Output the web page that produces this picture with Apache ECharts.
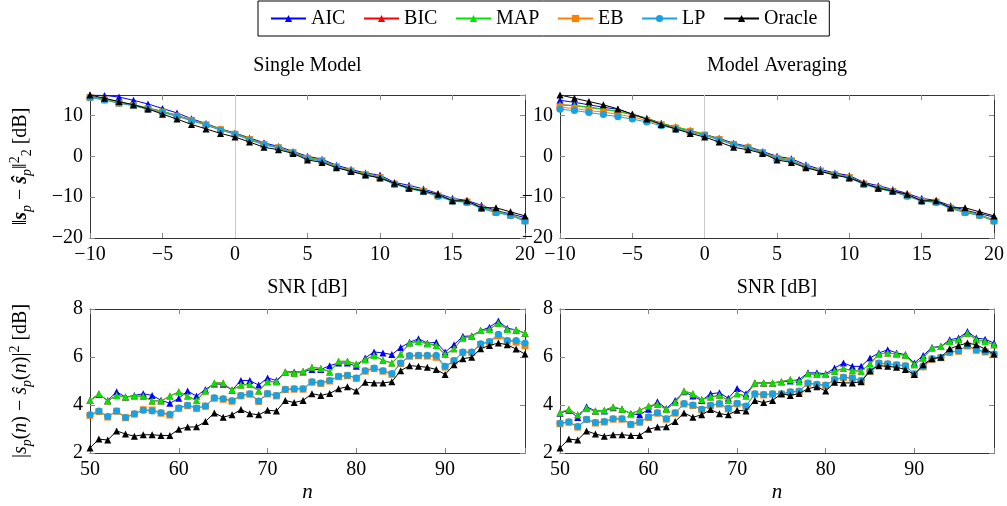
<!DOCTYPE html>
<html><head><meta charset="utf-8">
<script src="https://cdn.jsdelivr.net/npm/echarts@6/dist/echarts.min.js"></script>
<style>html,body{margin:0;padding:0;background:#fff}#c{width:1007px;height:506px}</style>
</head><body><div id="c"></div><script>
// ---------- data ----------
const snrDb = [-10,-9,-8,-7,-6,-5,-4,-3,-2,-1,0,1,2,3,4,5,6,7,8,9,10,11,12,13,14,15,16,17,18,19,20];
const nIdx = [50,51,52,53,54,55,56,57,58,59,60,61,62,63,64,65,66,67,68,69,70,71,72,73,74,75,76,77,78,79,80,81,82,83,84,85,86,87,88,89,90,91,92,93,94,95,96,97,98,99];

// Single Model, error vs SNR
const aicSingle = [15.0,14.9,14.5,13.7,12.8,11.7,10.6,9.2,8.0,6.7,5.7,4.5,3.3,2.4,1.2,0.0,-0.7,-2.2,-3.2,-4.1,-4.6,-6.4,-7.1,-8.0,-9.1,-10.3,-10.8,-12.0,-13.3,-14.1,-15.0];
const bicSingle = [14.6,14.0,13.3,12.6,11.8,11.0,10.0,8.9,7.9,6.6,5.6,4.3,3.0,2.2,1.0,-0.3,-1.0,-2.5,-3.5,-4.4,-5.0,-6.7,-7.6,-8.4,-9.5,-10.7,-11.0,-12.5,-13.5,-14.3,-15.6];
const mapSingle = [14.6,14.0,13.3,12.6,11.8,11.0,10.0,8.9,7.9,6.6,5.6,4.3,3.0,2.2,1.0,-0.3,-1.0,-2.5,-3.5,-4.4,-5.0,-6.7,-7.6,-8.4,-9.5,-10.7,-11.0,-12.5,-13.5,-14.3,-15.6];
const ebSingle  = [14.4,13.8,13.0,12.4,11.6,10.8,9.8,8.8,7.7,6.5,5.4,4.1,2.9,2.1,0.9,-0.5,-1.1,-2.6,-3.6,-4.5,-5.2,-6.8,-7.8,-8.6,-9.7,-10.9,-11.2,-12.7,-13.7,-14.4,-15.8];
const lpSingle  = [14.4,13.8,13.0,12.4,11.5,10.7,9.8,8.7,7.6,6.4,5.4,4.0,2.8,2.0,0.8,-0.6,-1.2,-2.7,-3.7,-4.6,-5.3,-6.9,-7.9,-8.7,-9.8,-11.0,-11.3,-12.8,-13.8,-14.5,-15.9];
const oracleSnr = [15.0,14.2,13.4,12.6,11.6,10.3,9.1,7.8,6.7,5.6,4.7,3.5,2.2,1.6,0.7,-0.9,-1.5,-2.8,-3.7,-4.6,-5.3,-6.6,-7.8,-8.5,-9.3,-10.9,-10.9,-12.6,-12.6,-13.6,-14.6];

// Model Averaging, error vs SNR
const aicAvg = [13.7,13.2,12.6,12.0,11.5,10.3,9.3,8.1,7.1,6.1,5.3,4.4,3.2,2.4,1.2,0.0,-0.6,-2.1,-3.2,-4.1,-4.7,-6.4,-7.2,-8.1,-9.1,-10.3,-10.8,-12.1,-13.2,-14.0,-14.9];
const bicAvg = [12.6,12.4,12.0,11.5,11.0,10.2,9.2,8.0,7.2,6.3,5.4,4.2,3.0,2.2,1.0,-0.3,-1.0,-2.5,-3.5,-4.4,-5.0,-6.7,-7.6,-8.4,-9.5,-10.7,-11.0,-12.5,-13.5,-14.3,-15.6];
const mapAvg = [12.6,12.4,12.0,11.5,11.0,10.2,9.2,8.0,7.2,6.3,5.4,4.2,3.0,2.2,1.0,-0.3,-1.0,-2.5,-3.5,-4.4,-5.0,-6.7,-7.6,-8.4,-9.5,-10.7,-11.0,-12.5,-13.5,-14.3,-15.6];
const ebAvg  = [12.0,11.7,11.2,10.8,10.3,9.6,8.8,7.7,6.9,6.1,5.2,4.1,2.9,2.1,0.9,-0.5,-1.1,-2.6,-3.6,-4.5,-5.2,-6.8,-7.8,-8.6,-9.7,-10.9,-11.2,-12.7,-13.7,-14.4,-15.8];
const lpAvg  = [11.5,11.2,10.7,10.2,9.7,9.1,8.4,7.5,6.7,5.9,5.1,4.0,2.8,2.0,0.8,-0.6,-1.2,-2.7,-3.7,-4.6,-5.3,-6.9,-7.9,-8.7,-9.8,-11.0,-11.3,-12.8,-13.8,-14.5,-15.9];

// Single Model, error vs n
const aicSingleN = [4.19,4.44,4.19,4.55,4.33,4.40,4.47,4.40,4.20,4.07,4.28,4.58,4.37,4.65,4.88,4.86,4.62,5.02,5.02,4.83,5.13,5.02,5.38,5.38,5.38,5.48,5.48,5.64,5.75,5.75,5.61,5.96,6.21,6.17,6.10,6.40,6.61,6.76,6.58,6.61,6.21,6.51,6.86,6.88,7.10,7.24,7.50,7.20,7.13,6.99];
const bicSingleN = [4.19,4.47,4.17,4.40,4.33,4.37,4.36,4.17,4.17,4.37,4.55,4.37,4.19,4.58,4.92,4.92,4.62,4.83,4.86,4.58,4.97,4.97,5.38,5.32,5.41,5.57,5.52,5.38,5.82,5.82,5.71,5.89,6.06,5.86,5.75,6.12,6.58,6.65,6.55,6.48,6.10,6.34,6.79,6.86,7.10,7.15,7.41,7.15,7.13,6.99];
const mapSingleN = [4.19,4.47,4.17,4.40,4.33,4.37,4.36,4.17,4.17,4.37,4.55,4.37,4.19,4.58,4.92,4.92,4.62,4.83,4.86,4.58,4.97,4.97,5.38,5.32,5.41,5.57,5.52,5.38,5.82,5.82,5.71,5.89,6.06,5.86,5.75,6.12,6.58,6.65,6.55,6.48,6.10,6.34,6.79,6.86,7.10,7.15,7.41,7.15,7.13,6.99];
const ebSingleN  = [3.57,3.73,3.50,3.74,3.47,3.62,3.80,3.79,3.66,3.58,3.86,3.97,3.86,3.95,4.28,4.24,4.16,4.38,4.45,4.15,4.46,4.38,4.64,4.66,4.66,4.95,4.90,5.00,5.18,5.22,5.11,5.41,5.52,5.41,5.28,5.73,6.03,6.05,6.04,5.99,5.58,5.83,6.19,6.19,6.52,6.62,6.88,6.66,6.62,6.48];
const lpSingleN  = [3.59,3.75,3.52,3.75,3.48,3.64,3.78,3.75,3.68,3.61,3.88,3.99,3.88,3.96,4.30,4.26,4.18,4.40,4.47,4.17,4.48,4.40,4.66,4.68,4.68,4.97,4.92,5.02,5.20,5.24,5.13,5.43,5.54,5.43,5.31,5.75,6.06,6.07,6.07,6.07,5.61,5.85,6.21,6.21,6.55,6.65,6.95,6.69,6.69,6.58];
const oracleN    = [2.21,2.58,2.54,2.92,2.79,2.70,2.76,2.76,2.73,2.73,2.99,3.08,3.09,3.31,3.67,3.49,3.59,3.81,3.64,3.59,3.78,3.75,4.19,4.10,4.19,4.47,4.40,4.48,4.68,4.76,4.58,4.95,4.92,4.92,4.97,5.43,5.64,5.61,5.57,5.48,5.27,5.68,5.93,5.99,6.34,6.48,6.58,6.51,6.33,6.12];

// Model Averaging, error vs n
const aicAvgN = [3.66,3.78,3.48,3.93,3.75,3.75,3.89,3.82,3.64,3.59,3.82,4.14,3.85,4.19,4.55,4.37,4.19,4.47,4.51,4.28,4.69,4.47,4.92,4.92,4.92,4.97,5.00,5.06,5.34,5.34,5.30,5.54,5.75,5.61,5.61,5.96,6.17,6.30,6.17,6.10,5.75,6.06,6.40,6.44,6.72,6.79,7.06,6.79,6.74,6.58];
const bicAvgN = [3.68,3.82,3.59,3.86,3.75,3.78,3.92,3.82,3.64,3.78,3.96,4.03,3.82,4.10,4.58,4.47,4.23,4.33,4.41,4.19,4.47,4.37,4.92,4.92,4.92,4.97,5.06,4.97,5.31,5.27,5.27,5.41,5.52,5.43,5.41,5.72,6.12,6.17,6.12,6.07,5.68,5.96,6.37,6.44,6.65,6.72,6.99,6.72,6.65,6.51];
const mapAvgN = [3.68,3.82,3.59,3.86,3.75,3.78,3.92,3.82,3.64,3.78,3.96,4.03,3.82,4.10,4.58,4.47,4.23,4.33,4.41,4.19,4.47,4.37,4.92,4.92,4.92,4.97,5.06,4.97,5.31,5.27,5.27,5.41,5.52,5.43,5.41,5.72,6.12,6.17,6.12,6.07,5.68,5.96,6.37,6.44,6.65,6.72,6.99,6.72,6.65,6.51];
const ebAvgN  = [3.22,3.28,3.08,3.39,3.25,3.29,3.41,3.41,3.18,3.28,3.48,3.66,3.41,3.66,4.04,3.98,3.80,3.97,4.04,3.84,4.05,3.94,4.45,4.42,4.45,4.45,4.53,4.56,4.90,4.84,4.81,5.04,5.14,5.11,5.00,5.39,5.73,5.70,5.66,5.62,5.28,5.59,5.91,5.97,6.19,6.24,6.46,6.28,6.21,6.10];
const lpAvgN  = [3.24,3.30,3.10,3.41,3.27,3.31,3.43,3.43,3.20,3.30,3.50,3.68,3.43,3.68,4.06,4.00,3.82,3.99,4.06,3.86,4.07,3.96,4.47,4.44,4.47,4.47,4.55,4.58,4.92,4.86,4.83,5.06,5.16,5.13,5.02,5.41,5.75,5.72,5.68,5.64,5.30,5.61,5.93,5.99,6.21,6.26,6.48,6.30,6.23,6.12];

const methodNames = ['AIC','BIC','MAP','EB','LP','Oracle'];
const titles = ['Single Model','Model Averaging'];

// ---------- styling ----------
const FONT = "'Liberation Serif', 'DejaVu Serif', serif";
const methodStyle = {
  AIC:    {color:'#0000ff', symbol:'triangle', size:7},
  BIC:    {color:'#ff0000', symbol:'triangle', size:7},
  MAP:    {color:'#00e600', symbol:'triangle', size:7},
  EB:     {color:'#ff8000', symbol:'rect',     size:7},
  LP:     {color:'#17a3e3', symbol:'circle',   size:7},
  Oracle: {color:'#000000', symbol:'triangle', size:7}
};
const grids = [
  {left:90,  top:95,  width:435, height:143},
  {left:560, top:95,  width:434, height:143},
  {left:90,  top:309, width:435, height:144},
  {left:560, top:309, width:434, height:144}
];
const minus = v => (v < 0 ? '\u2212' + Math.abs(v) : String(v));
const richY = {
  b:   {fontFamily:FONT, fontSize:20, fontWeight:'bold', fontStyle:'italic', color:'#000'},
  i:   {fontFamily:FONT, fontSize:20, fontStyle:'italic', color:'#000'},
  sub: {fontFamily:FONT, fontSize:14, fontStyle:'italic', color:'#000', verticalAlign:'bottom', lineHeight:14},
  sn:  {fontFamily:FONT, fontSize:14, color:'#000', verticalAlign:'bottom', lineHeight:14},
  sup: {fontFamily:FONT, fontSize:14, color:'#000', verticalAlign:'top', lineHeight:14}
};

const xAxes = [], yAxes = [];
const axisCfg = {
  snr: {min:-10, max:20, step:5},
  n:   {min:50, max:99, step:10},
  errTop: {min:-20, max:15, step:10},
  errBot: {min:2, max:8, step:2}
};
function mkAxis(kind, g, pos, spec, showLabel, extra) {
  const a = Object.assign({
    type:'value', gridIndex:g, position:pos, min:spec.min, max:spec.max, interval:spec.step,
    splitLine:{show:false},
    axisLine:{show:true, onZero:false, lineStyle:{color:'#333', width:1}},
    axisTick:{show:true, inside:true, length:5, lineStyle:{color:'#888', width:1}},
    axisLabel:{show:showLabel, margin:7, color:'#000', fontFamily:FONT, fontSize:20,
      showMaxLabel:true,
      formatter: v => (Math.abs(v / spec.step - Math.round(v / spec.step)) < 1e-9 ? minus(v) : '')}
  }, extra || {});
  (kind === 'x' ? xAxes : yAxes).push(a);
  return (kind === 'x' ? xAxes : yAxes).length - 1;
}
const axisIdx = [];
for (let g = 0; g < 4; g++) {
  const top = g < 2;
  const xs = top ? axisCfg.snr : axisCfg.n;
  const ys = top ? axisCfg.errTop : axisCfg.errBot;
  const xName = top ? {name:'SNR [dB]', nameLocation:'middle', nameGap:40,
      nameTextStyle:{fontFamily:FONT, fontSize:20, color:'#000'}}
    : {name:'n', nameLocation:'middle', nameGap:29,
      nameTextStyle:{fontFamily:FONT, fontSize:21, fontStyle:'italic', color:'#000'}};
  const xi = mkAxis('x', g, 'bottom', xs, true, xName);
  mkAxis('x', g, 'top', xs, false);
  let yExtra = {};
  if (g === 0) yExtra = {name:'\u2016{b|s}{sub|p} \u2212 {b|\u015D}{sub|p}\u2016{sup|2}{sn|2} [dB]', nameLocation:'middle', nameGap:56, nameRotate:90,
      nameTextStyle:{fontFamily:FONT, fontSize:20, color:'#000', lineHeight:26, rich:richY}};
  if (g === 2) yExtra = {name:'|{i|s}{sub|p}({i|n}) \u2212 {i|\u015D}{sub|p}({i|n})|{sup|2} [dB]', nameLocation:'middle', nameGap:56, nameRotate:90,
      nameTextStyle:{fontFamily:FONT, fontSize:20, color:'#000', lineHeight:26, rich:richY}};
  const yi = mkAxis('y', g, 'left', ys, true, yExtra);
  mkAxis('y', g, 'right', ys, false);
  axisIdx.push({xi, yi});
}

const panelData = [
  {x:snrDb, AIC:aicSingle, BIC:bicSingle, MAP:mapSingle, EB:ebSingle, LP:lpSingle, Oracle:oracleSnr},
  {x:snrDb, AIC:aicAvg, BIC:bicAvg, MAP:mapAvg, EB:ebAvg, LP:lpAvg, Oracle:oracleSnr},
  {x:nIdx, AIC:aicSingleN, BIC:bicSingleN, MAP:mapSingleN, EB:ebSingleN, LP:lpSingleN, Oracle:oracleN},
  {x:nIdx, AIC:aicAvgN, BIC:bicAvgN, MAP:mapAvgN, EB:ebAvgN, LP:lpAvgN, Oracle:oracleN}
];

const series = [];
panelData.forEach((pd, g) => {
  methodNames.forEach((m, k) => {
    const st = methodStyle[m];
    const s = {
      type:'line', name:m, xAxisIndex:axisIdx[g].xi, yAxisIndex:axisIdx[g].yi,
      data: pd.x.map((xv, i) => [xv, pd[m][i]]),
      symbol:st.symbol, symbolSize:st.size, showSymbol:true,
      lineStyle:{color:st.color, width:1}, itemStyle:{color:st.color},
      emphasis:{disabled:true}, animation:false, clip:true, z: 2 + k
    };
    if (g < 2 && k === 0) {
      s.markLine = {silent:true, symbol:'none', label:{show:false}, animation:false,
        lineStyle:{color:'#c8c8c8', type:'solid', width:1}, data:[{xAxis:0}]};
    }
    series.push(s);
  });
});

const chart = echarts.init(document.getElementById('c'), null, {renderer:'canvas'});
chart.setOption({
  animation:false,
  backgroundColor:'#fff',
  grid: grids,
  xAxis: xAxes,
  yAxis: yAxes,
  legend: {
    data: methodNames, left:258, top:1, orient:'horizontal',
    padding:[7,12], itemGap:17.6, itemWidth:35, itemHeight:9,
    borderColor:'#000', borderWidth:1,
    textStyle:{fontFamily:FONT, fontSize:20, color:'#000', lineHeight:21}
  },
  graphic: [
    {type:'text', x:307.5, y:66, style:{text:titles[0], align:'center', verticalAlign:'middle', fontFamily:FONT, fontSize:20, fill:'#000'}},
    {type:'text', x:777, y:66, style:{text:titles[1], align:'center', verticalAlign:'middle', fontFamily:FONT, fontSize:20, fill:'#000'}}
  ],
  series: series
});
</script></body></html>
